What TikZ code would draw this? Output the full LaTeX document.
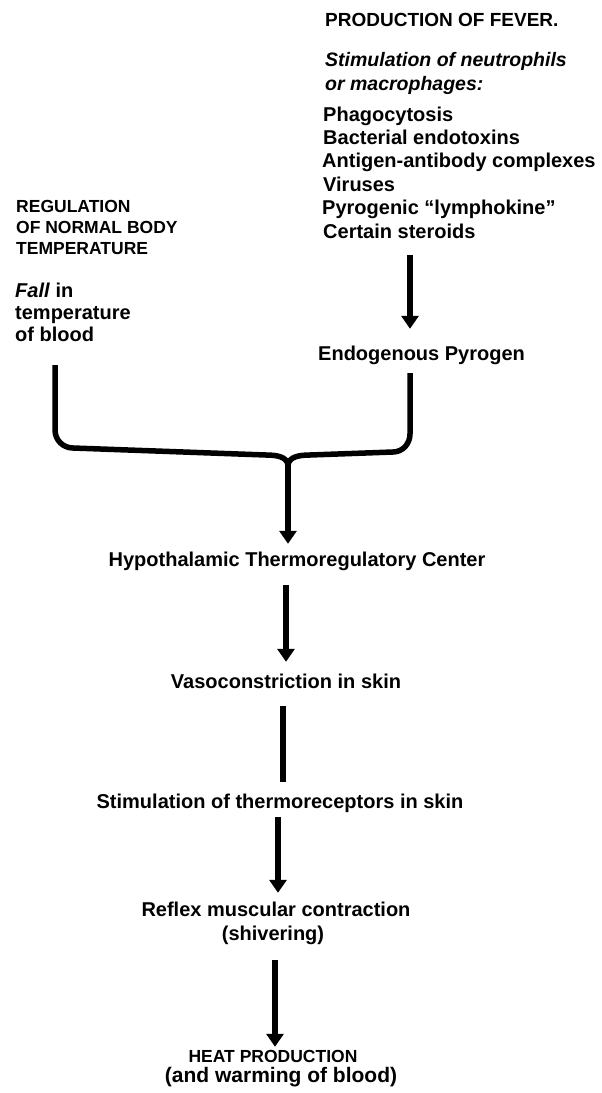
\documentclass[tikz,border=0pt]{standalone}
\usepackage{fontspec}
\setmainfont{Liberation Sans}
\usetikzlibrary{arrows.meta,calc}
\begin{document}
\begin{tikzpicture}[x=1pt,y=-1pt,
  body/.style={font=\fontsize{20}{22}\selectfont\bfseries, inner sep=0pt, text height=15pt, text depth=4pt},
  caps/.style={font=\fontsize{17.5}{20}\selectfont\bfseries, inner sep=0pt, text height=13pt, text depth=0pt},
  bigcaps/.style={font=\fontsize{19}{21}\selectfont\bfseries, inner sep=0pt, text height=13pt, text depth=0pt},
  emph/.style={font=\fontsize{19.5}{22}\selectfont\bfseries\itshape, inner sep=0pt, text height=15pt, text depth=4pt},
  arr/.style={line width=5.5pt, -{Triangle[length=13pt,width=17pt]}},
  bar/.style={line width=5.5pt},
  bracket/.style={line width=5.5pt, line join=round}]
\useasboundingbox[fill=white] (0,0) rectangle (602,1093);

% right column: production of fever
\node[bigcaps, anchor=base west] (fever) at (325,26) {PRODUCTION OF FEVER.};
\node[emph, anchor=base west] (stim1) at (325,66) {Stimulation of neutrophils};
\node[emph, anchor=base west] (stim2) at (325,90) {or macrophages:};
\node[body, anchor=base west] (phago) at (323,121) {Phagocytosis};
\node[body, anchor=base west] (bact) at (323,144.4) {Bacterial endotoxins};
\node[body, anchor=base west] (antig) at (322,167.8) {Antigen-antibody complexes};
\node[body, anchor=base west] (vir) at (323,191.2) {Viruses};
\node[body, anchor=base west] (pyro) at (322,214.6) {Pyrogenic “lymphokine”};
\node[body, anchor=base west] (steroids) at (323,238) {Certain steroids};
\node[body, anchor=base west] (endo) at (318,360) {Endogenous Pyrogen};

% left column: regulation
\node[caps, anchor=base west] (reg1) at (16,212) {REGULATION};
\node[caps, anchor=base west] (reg2) at (16,233) {OF NORMAL BODY};
\node[caps, anchor=base west] (reg3) at (16,254) {TEMPERATURE};
\node[body, anchor=base west] (fall) at (15,297) {\textit{Fall} in};
\node[body, anchor=base west] (temp) at (15,319) {temperature};
\node[body, anchor=base west] (blood) at (15,341) {of blood};

% main chain
\node[body, anchor=base] (hypo) at (297,566) {Hypothalamic Thermoregulatory Center};
\node[body, anchor=base] (vaso) at (286,688) {Vasoconstriction in skin};
\node[body, anchor=base] (thermo) at (280,808) {Stimulation of thermoreceptors in skin};
\node[body, anchor=base] (reflex) at (276,916) {Reflex muscular contraction};
\node[body, anchor=base] (shiver) at (273,940) {(shivering)};
\node[caps, anchor=base] (heat) at (273,1062) {HEAT PRODUCTION};
\node[body, anchor=base, font=\fontsize{21}{23}\selectfont\bfseries] (warm) at (281,1082) {(and warming of blood)};

% connectors
\draw[arr] ($(steroids.south west)+(87,13)$) -- ($(endo.north west)+(92,-16)$);

\coordinate (lt) at ($(blood.south west)+(40,20)$);
\coordinate (rt) at ($(endo.south west)+(92,9)$);
\coordinate (j) at (288,466);
\draw[bracket] (lt) -- (55,430) to[out=-90,in=180] (73,448) -- (266,455) to[out=0,in=90] (j);
\draw[bracket] (rt) -- (410,434) to[out=-90,in=0] (393,452) -- (310,455) to[out=180,in=90] (j);
\draw[arr] (j) -- ($(hypo.north)+(-9,-7)$);

\draw[arr] ($(hypo.south)+(-11,15)$) -- ($(vaso.north)+(0,-11)$);
\draw[bar] ($(vaso.south)+(-3,14)$) -- ($(thermo.north)+(3,-11)$);
\draw[arr] ($(thermo.south)+(-2,5)$) -- ($(reflex.north)+(2,-8)$);
\draw[arr] ($(shiver.south)+(2,16)$) -- ($(heat.north)+(2,-2)$);
\end{tikzpicture}
\end{document}
